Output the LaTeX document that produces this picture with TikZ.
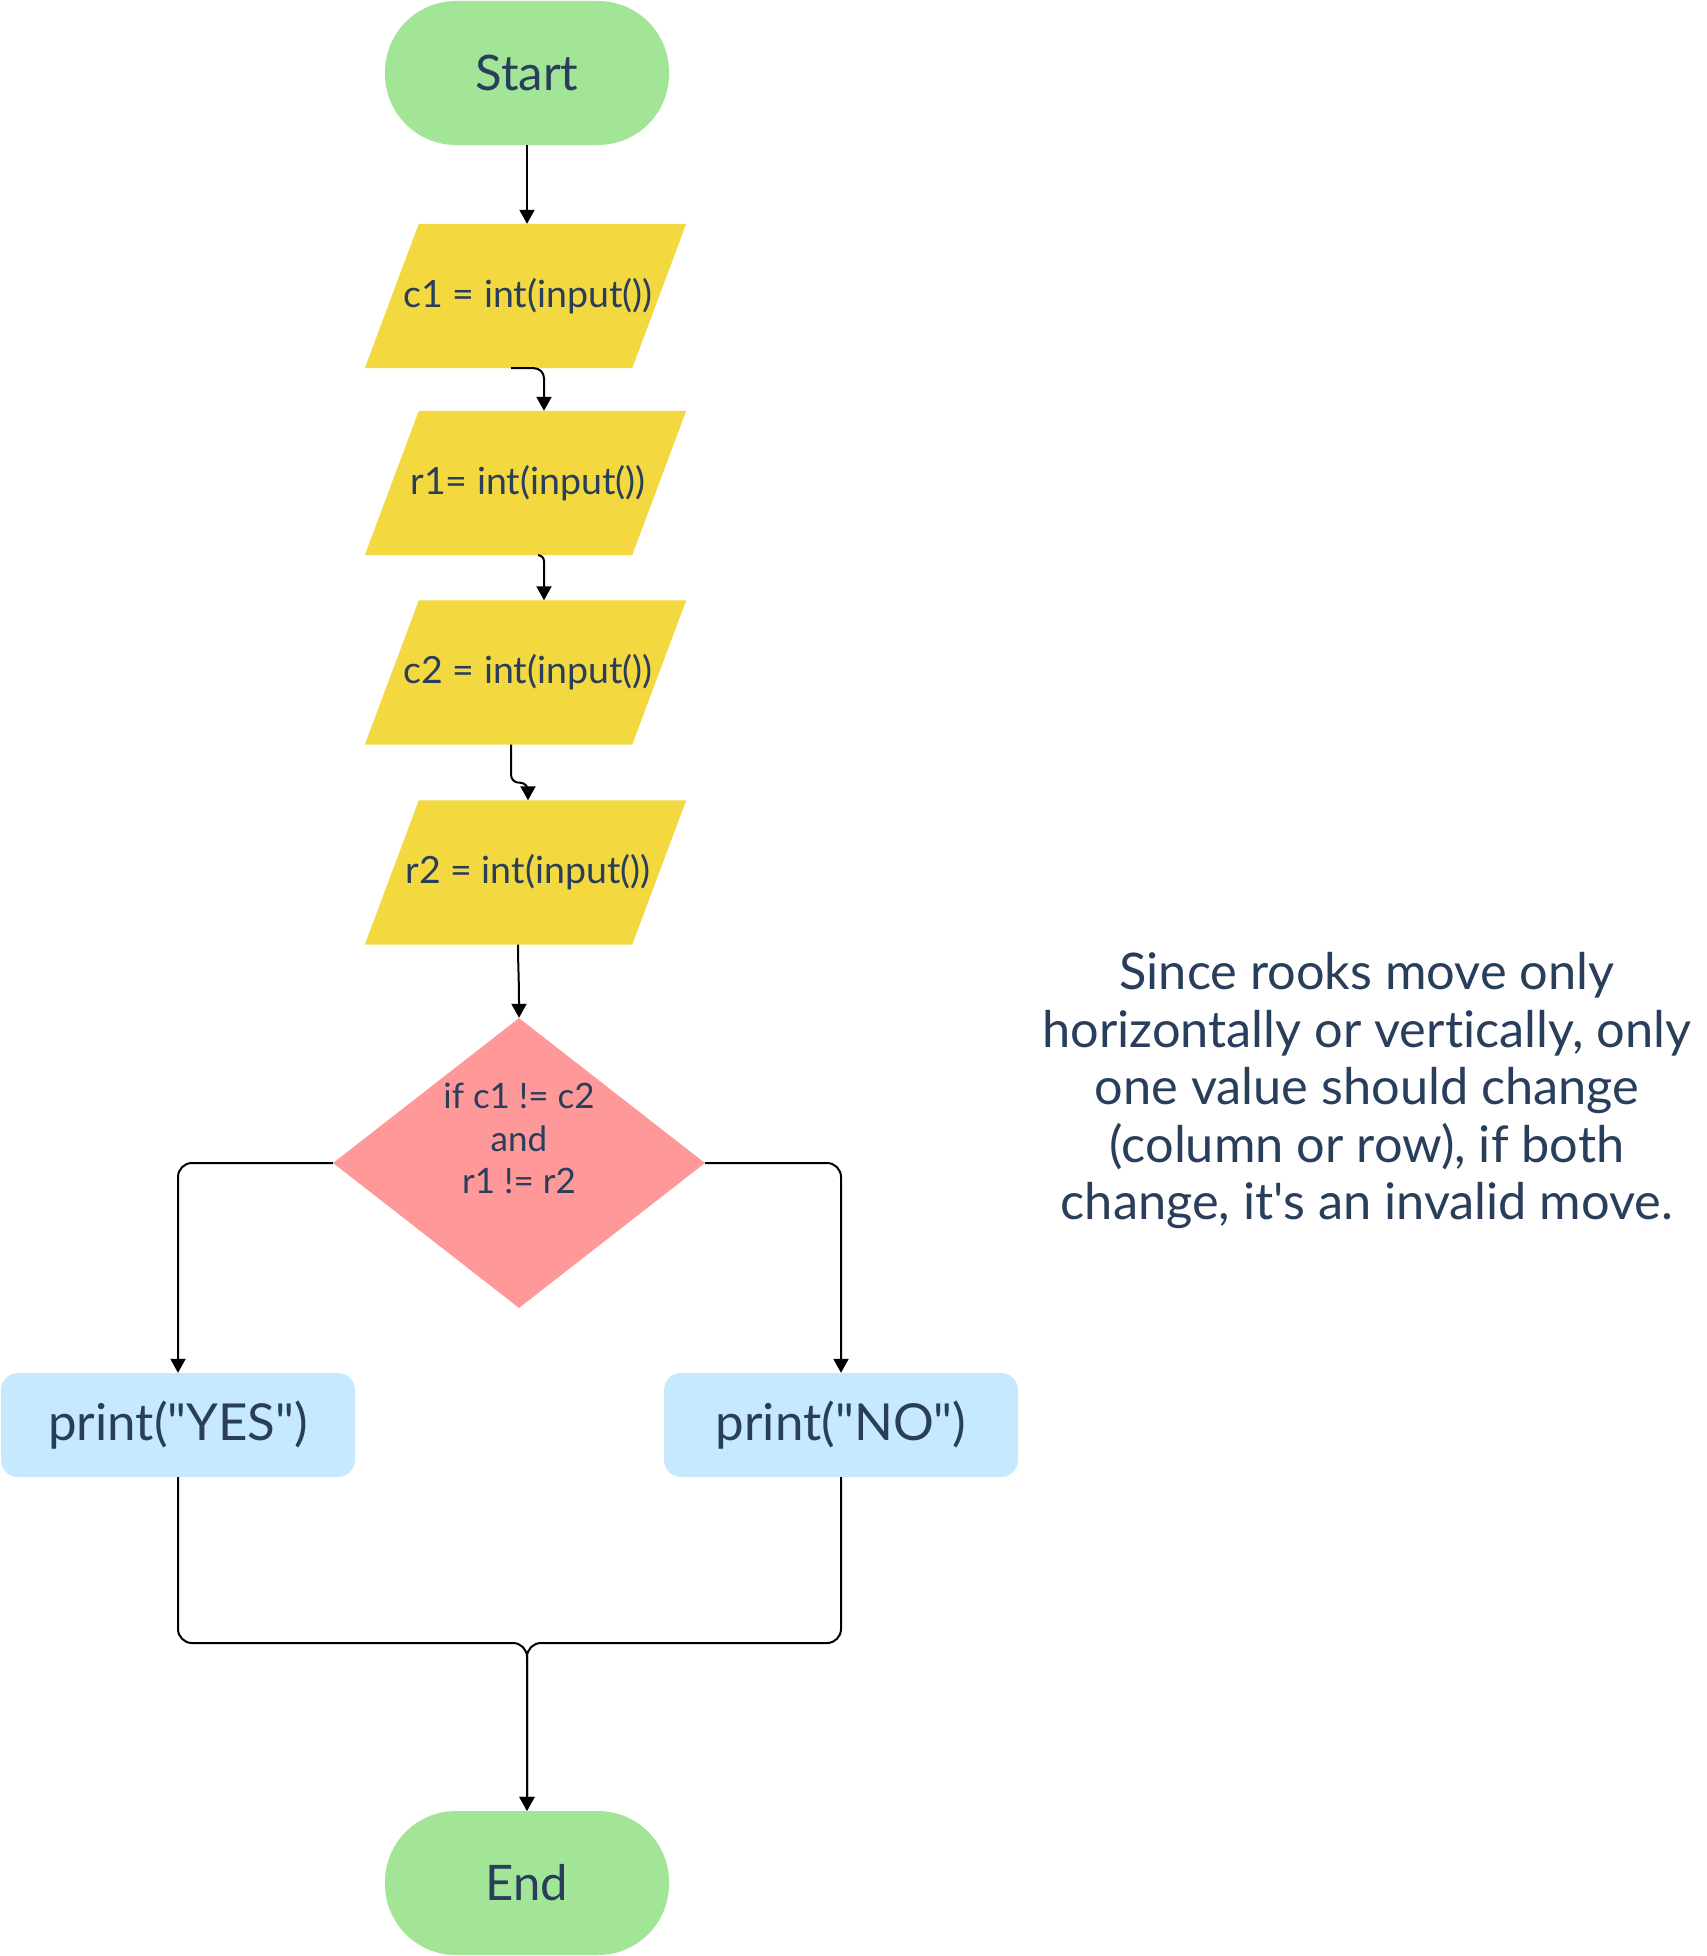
\documentclass[tikz,border=0pt]{standalone}
\usepackage{fontspec}
\setmainfont{Lato}[Ligatures={TeXOff,NoCommon}]
\usetikzlibrary{arrows.meta,shapes.geometric,backgrounds}
\definecolor{txt}{RGB}{40,62,90}
\definecolor{termg}{RGB}{163,229,150}
\definecolor{paray}{RGB}{244,216,64}
\definecolor{diap}{RGB}{255,153,153}
\definecolor{boxb}{RGB}{199,233,253}
\tikzset{
 term/.style={rectangle, rounded corners=71pt, minimum width=284pt, minimum height=144pt, fill=termg, inner sep=0pt, text=txt, font=\fontsize{49}{55}\selectfont},
 para/.style={rectangle, minimum width=321pt, minimum height=144pt, inner sep=0pt, text=txt, font=\fontsize{37.5}{44}\selectfont},
 dia/.style={diamond, minimum width=372pt, minimum height=290pt, inner sep=0pt, fill=diap},
 dtext/.style={align=center, text=txt, font=\fontsize{35}{42.5}\selectfont, inner sep=0pt},
 outbox/.style={rectangle, rounded corners=17pt, minimum width=354pt, minimum height=104pt, fill=boxb, inner sep=0pt, text=txt, font=\fontsize{51}{58}\selectfont},
 note/.style={align=center, text=txt, font=\fontsize{50.5}{57.6}\selectfont, inner sep=0pt},
 conn/.style={draw=black, line width=2pt, -{Triangle[length=14pt,width=15pt]}},
}
\begin{document}
\begin{tikzpicture}[x=1pt,y=-1pt]
\useasboundingbox (0,0) rectangle (1706,1956);
\node[term] (start) at (527,73) {Start};
\node[para] (c1) at (525.5,296) {\hspace{5pt}c1 = int(input())};
\node[para] (r1) at (525.5,483) {\hspace{5pt}r1= int(input())};
\node[para] (c2) at (525.5,672.5) {\hspace{5pt}c2 = int(input())};
\node[para] (r2) at (525.5,872.5) {\hspace{5pt}r2 = int(input())};
\node[dia] (d) at (519,1163) {};
\node[dtext, anchor=north] (dt) at (519,1083) {if c1 != c2\\and\\r1 != r2};
\node[outbox] (yes) at (178,1425) {print("YES")};
\node[outbox] (no) at (841,1425) {print("NO")};
\node[term] (endn) at (527,1883) {End};
\node[note, anchor=north] (nt) at (1367,952) {Since rooks move only\\horizontally or vertically, only\\one value should change\\(column or row), if both\\change, it's an invalid move.};
\coordinate (m) at (527,1643);
\begin{scope}[on background layer]
\fill[white] (0,0) rectangle (1706,1956);
\foreach \n in {c1,r1,c2,r2}
  \fill[paray] ([xshift=54pt]\n.north west) -- (\n.north east) -- ([xshift=-54pt]\n.south east) -- (\n.south west) -- cycle;
\end{scope}
\draw[conn] (start.south) -- (start.south |- c1.north);
\draw[conn, rounded corners=10pt] ([xshift=-14.5pt]c1.south) -| ([xshift=18.5pt]r1.north);
\draw[conn, rounded corners=6pt] ([xshift=12.5pt]r1.south) -| ([xshift=18.5pt]c2.north);
\draw[conn, rounded corners=8pt] ([xshift=-14.5pt]c2.south) -- ++(0,38) -| ([xshift=2.5pt]r2.north);
\draw[conn] ([xshift=-7.5pt]r2.south) .. controls +(0,20) and +(0,-40) .. (d.north);
\draw[conn, rounded corners=14pt] (d.west) -| (yes.north);
\draw[conn, rounded corners=14pt] (d.east) -| (no.north);
\draw[conn, rounded corners=14pt] (yes.south) |- (m) -- (endn.north);
\draw[conn, rounded corners=14pt] (no.south) |- (m) -- (endn.north);
\end{tikzpicture}
\end{document}
